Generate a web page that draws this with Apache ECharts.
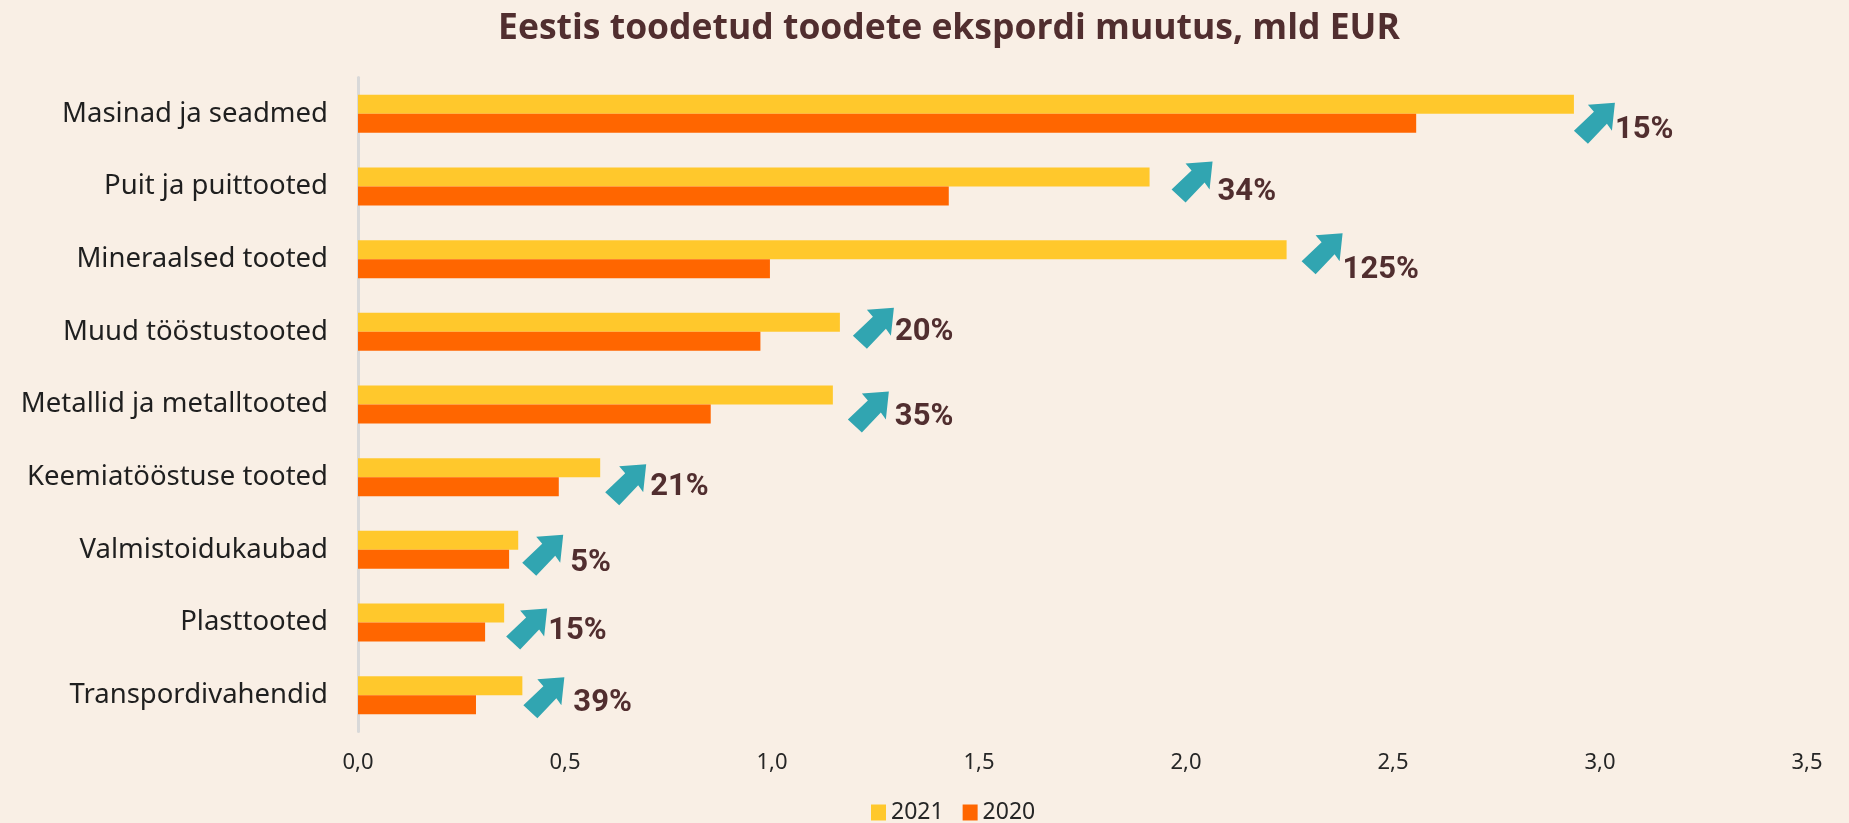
<!DOCTYPE html>
<html>
<head>
<meta charset="UTF-8">
<title>Eestis toodetud toodete ekspordi muutus</title>
<style>
html, body { margin: 0; padding: 0; background: #f9efe5; }
#chart { width: 1849px; height: 823px; }
</style>
<script src="https://cdn.jsdelivr.net/npm/echarts@6/dist/echarts.min.js"></script>
</head>
<body>
<div id="chart"></div>
<script>
var categories = ['Masinad ja seadmed', 'Puit ja puittooted', 'Mineraalsed tooted', 'Muud tööstustooted',
	'Metallid ja metalltooted', 'Keemiatööstuse tooted', 'Valmistoidukaubad', 'Plasttooted', 'Transpordivahendid'];
var values2021 = [2.937, 1.912, 2.243, 1.164, 1.147, 0.585, 0.387, 0.353, 0.397];
var values2020 = [2.556, 1.427, 0.995, 0.972, 0.852, 0.485, 0.365, 0.307, 0.285];
var changes = ['15%', '34%', '125%', '20%', '35%', '21%', '5%', '15%', '39%'];

// arrow and label placement, pixels from the end of the 2021 bar
var arrowOffset = [[21, 9], [43, -5], [36, -6], [34, -4], [36, 7], [26, 7], [25, 5], [23, 6], [22, 2]];
var labelOffset = [[41, 16], [68, 6], [56, 11], [55, 0], [62, 13], [50, 10], [52, 13], [44, 9], [51, 8]];
var arrowShape = [[20, -20], [-7, -18], [-1, -11], [-21, 8], [-7, 21], [12, 1], [17, 8]];

var myChart = echarts.init(document.getElementById('chart'));

function renderChange(params, api) {
	var i = api.value(1);
	var end = api.coord([api.value(0), i]);
	var a = arrowOffset[i], l = labelOffset[i];
	return {
		type: 'group',
		children: [
			{
				type: 'polygon',
				x: end[0] + a[0],
				y: end[1] + a[1],
				shape: { points: arrowShape },
				style: { fill: '#31a5b1' }
			},
			{
				type: 'text',
				x: end[0] + l[0],
				y: end[1] + l[1],
				style: {
					text: changes[i],
					fill: '#512e2f',
					font: 'bold 31px Roboto',
					textAlign: 'left',
					textVerticalAlign: 'middle'
				}
			}
		]
	};
}

myChart.setOption({
	animation: false,
	backgroundColor: '#f9efe5',
	title: {
		text: 'Eestis toodetud toodete ekspordi muutus, mld EUR',
		left: 944,
		top: 6,
		textAlign: 'center',
		textStyle: { fontFamily: 'Open Sans', fontWeight: 'bold', fontSize: 35.5, color: '#512e2f' }
	},
	legend: {
		data: ['2021', '2020'],
		left: 866,
		top: 796,
		itemWidth: 15,
		itemHeight: 16,
		itemGap: 19,
		icon: 'rect',
		textStyle: { fontFamily: 'Noto Sans', fontSize: 23, color: '#262626' }
	},
	grid: { left: 358, top: 77.5, width: 1449, height: 654 },
	xAxis: {
		type: 'value',
		min: 0,
		max: 3.5,
		interval: 0.5,
		axisLine: { show: false },
		axisTick: { show: false },
		splitLine: { show: false },
		axisLabel: {
			margin: 20,
			fontFamily: 'Noto Sans',
			fontSize: 22,
			color: '#262626',
			formatter: function (v) { return v.toFixed(1).replace('.', ','); }
		}
	},
	yAxis: {
		type: 'category',
		inverse: true,
		data: categories,
		axisLine: { lineStyle: { color: '#d9d9d9', width: 3 } },
		axisTick: { show: false },
		axisLabel: { margin: 30, fontFamily: 'Noto Sans', fontSize: 27.5, color: '#1f1f1f', padding: [4, 0, 0, 0] }
	},
	series: [
		{ name: '2021', type: 'bar', data: values2021, barWidth: 19, barGap: 0, itemStyle: { color: '#ffc82c' } },
		{ name: '2020', type: 'bar', data: values2020, barWidth: 19, barGap: 0, itemStyle: { color: '#ff6600' } },
		{
			name: 'muutus',
			type: 'custom',
			renderItem: renderChange,
			clip: false,
			silent: true,
			encode: { x: 0, y: 1 },
			data: values2021.map(function (v, i) { return [v, i]; })
		}
	]
});
</script>
</body>
</html>
